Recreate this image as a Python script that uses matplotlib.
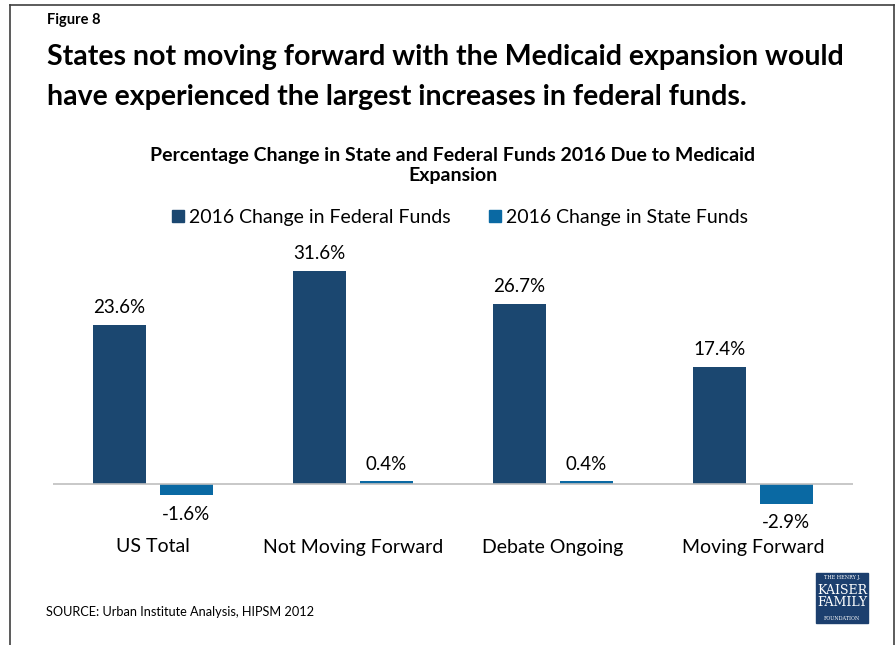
import numpy as np
import matplotlib.pyplot as plt
from matplotlib.patches import Rectangle
from matplotlib.lines import Line2D

plt.rcParams['font.family'] = ['Lato', 'DejaVu Sans']

categories = ["US Total", "Not Moving Forward", "Debate Ongoing", "Moving Forward"]
federal = [23.6, 31.6, 26.7, 17.4]
state = [-1.6, 0.4, 0.4, -2.9]
series_names = ["2016 Change in Federal Funds", "2016 Change in State Funds"]

c_fed = '#1b4770'
c_state = '#0a69a3'

W, H = 896, 645
fig = plt.figure(figsize=(W / 100, H / 100), dpi=100)

# axes placed in pixel coords: x 53..853, baseline at y=484
ax = fig.add_axes([53 / W, 1 - 517.7 / H, 800 / W, 269.7 / H])
x = np.arange(len(categories))
bw = 0.265
off = 0.167
ax.bar(x - off, federal, bw, color=c_fed)
ax.bar(x + off, state, bw, color=c_state)
ax.set_xlim(-0.5, 3.5)
ax.set_ylim(-5, 35)
ax.axhline(0, color='#bfbfbf', lw=1.2)
ax.axis('off')

for xi, v in zip(x, federal):
    ax.text(xi - off, v + 1.3, f"{v}%", ha='center', va='bottom', fontsize=13.5)
for xi, v in zip(x, state):
    if v >= 0:
        ax.text(xi + off, v + 1.3, f"{v}%", ha='center', va='bottom', fontsize=13.5)
    else:
        ax.text(xi + off, v - 1.6, f"{v}%", ha='center', va='top', fontsize=13.5)

for xi, c in zip(x, categories):
    fig.text((53 + 200 * (xi + 0.5)) / W, 1 - 547 / H, c, ha='center', va='center', fontsize=14)

# titles
fig.text(47 / W, 1 - 20 / H, "Figure 8", fontsize=10.5, fontweight='bold', va='center')
fig.text(47 / W, 1 - 57 / H, "States not moving forward with the Medicaid expansion would",
         fontsize=20.5, fontweight='bold', va='center')
fig.text(47 / W, 1 - 97 / H, "have experienced the largest increases in federal funds.",
         fontsize=20.5, fontweight='bold', va='center')
fig.text(453 / W, 1 - 155 / H, "Percentage Change in State and Federal Funds 2016 Due to Medicaid",
         fontsize=14, fontweight='bold', ha='center', va='center')
fig.text(453 / W, 1 - 176 / H, "Expansion", fontsize=14, fontweight='bold', ha='center', va='center')

# legend
for lx, col, name in [(172, c_fed, series_names[0]), (489, c_state, series_names[1])]:
    fig.patches.append(Rectangle((lx / W, 1 - 222 / H), 12 / W, 12 / H,
                                 transform=fig.transFigure, color=col))
    fig.text((lx + 17) / W, 1 - 217 / H, name, fontsize=14, va='center')

fig.text(46 / W, 1 - 612 / H, "SOURCE: Urban Institute Analysis, HIPSM 2012", fontsize=9.2, va='center')

# logo
fig.patches.append(Rectangle((816 / W, 1 - 623 / H), 52 / W, 50 / H,
                             transform=fig.transFigure, color='#1c3f6e'))
for ty, t, fs in [(578, "THE HENRY J.", 3.5), (590, "KAISER", 9), (603, "FAMILY", 9), (618, "FOUNDATION", 3.5)]:
    fig.text(842 / W, 1 - ty / H, t, color='white', fontsize=fs, family='DejaVu Serif',
             ha='center', va='center')

# frame
for xs, ys in [([10, 10], [5, 645]), ([10, 894], [5, 5]), ([894, 894], [5, 645])]:
    fig.lines.append(Line2D([v / W for v in xs], [1 - v / H for v in ys],
                            transform=fig.transFigure, color='#404040', lw=1.2))

fig.savefig("out.png", dpi=100)
